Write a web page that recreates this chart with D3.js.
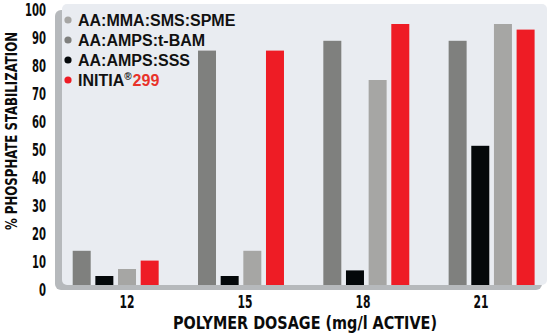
<!DOCTYPE html>
<html>
<head>
<meta charset="utf-8">
<script src="https://cdn.jsdelivr.net/npm/d3@7"></script>
<style>
  body { margin: 0; background: #fff; }
  .cond { font-family: "DejaVu Sans Condensed", "Liberation Sans Narrow", "Liberation Sans", sans-serif; font-weight: bold; }
  .leg { font-family: "Liberation Sans", Arial, sans-serif; font-weight: bold; }
</style>
</head>
<body>
<svg id="chart" width="549" height="335"></svg>
<script>
const dosages = ["12", "15", "18", "21"];
const seriesNames = ["AA:AMPS:t-BAM", "AA:AMPS:SSS", "AA:MMA:SMS:SPME", "INITIA 299"];
const tBam = [14, 85.5, 89, 89];
const sss = [5, 5, 7, 51.5];
const spme = [7.5, 14, 75, 95];
const initia = [10.5, 85.5, 95, 93];
const yTicks = [0, 10, 20, 30, 40, 50, 60, 70, 80, 90, 100];

const colors = ["#7f807e", "#04080a", "#a6a6a4", "#ee1c25"];
const values = [tBam, sss, spme, initia];

const svg = d3.select("#chart");

const y = d3.scaleLinear().domain([0, 100]).range([290, 10]);

const x0 = d3.scaleBand().domain(dosages)
  .range([72.7, 534.6]).paddingInner(0.314).paddingOuter(0);
const x1 = d3.scaleBand().domain(seriesNames)
  .range([0, x0.bandwidth()]).paddingInner(0.206).paddingOuter(0);
const xLab = d3.scalePoint().domain(dosages).range([127, 481]);

// panel with shadow band on left/bottom
svg.append("rect").attr("x", 55).attr("y", 10).attr("width", 487).attr("height", 280)
  .attr("rx", 6).attr("fill", "#b6b9bc");
svg.append("rect").attr("x", 62).attr("y", 4).attr("width", 485).attr("height", 281)
  .attr("rx", 5).attr("fill", "#e9ecf1");

svg.append("clipPath").attr("id", "panelClip")
  .append("rect").attr("x", 62).attr("y", 4).attr("width", 485).attr("height", 281);

const groups = svg.append("g").attr("clip-path", "url(#panelClip)")
  .selectAll("g").data(dosages).enter().append("g")
  .attr("transform", d => `translate(${x0(d)},0)`);

groups.selectAll("rect")
  .data((d, i) => seriesNames.map((s, j) => ({ s, j, v: values[j][i] })))
  .enter().append("rect")
  .attr("x", d => x1(d.s))
  .attr("width", x1.bandwidth())
  .attr("y", d => y(d.v))
  .attr("height", d => y(0) - y(d.v))
  .attr("fill", d => colors[d.j]);

// y tick labels
svg.append("g").selectAll("text").data(yTicks).enter().append("text")
  .attr("class", "cond")
  .attr("x", 46).attr("y", d => y(d)).attr("dy", "0.36em")
  .attr("text-anchor", "end").attr("font-size", 17).attr("fill", "#0b0b0b")
  .attr("textLength", d => String(d).length * 7).attr("lengthAdjust", "spacingAndGlyphs")
  .text(d => d);

// x tick labels
svg.append("g").selectAll("text").data(dosages).enter().append("text")
  .attr("class", "cond")
  .attr("x", d => xLab(d)).attr("y", 308)
  .attr("text-anchor", "middle").attr("font-size", 17).attr("fill", "#0b0b0b")
  .attr("textLength", 15).attr("lengthAdjust", "spacingAndGlyphs")
  .text(d => d);

// axis titles
svg.append("text").attr("class", "cond")
  .attr("transform", "translate(17,131) rotate(-90)")
  .attr("text-anchor", "middle").attr("font-size", 15).attr("fill", "#0b0b0b")
  .attr("textLength", 198).attr("lengthAdjust", "spacingAndGlyphs")
  .text("% PHOSPHATE STABILIZATION");

svg.append("text").attr("class", "cond")
  .attr("x", 305).attr("y", 329)
  .attr("text-anchor", "middle").attr("font-size", 18.5).attr("fill", "#0b0b0b")
  .attr("textLength", 264).attr("lengthAdjust", "spacingAndGlyphs")
  .text("POLYMER DOSAGE (mg/l ACTIVE)");

// legend
const legendOrder = [2, 0, 1, 3];
const leg = svg.append("g").selectAll("g").data(legendOrder).enter().append("g")
  .attr("transform", (d, i) => `translate(68,${20 + i * 20})`);
leg.append("circle").attr("r", 3.6).attr("fill", d => colors[d]);
leg.each(function (d) {
  const t = d3.select(this).append("text").attr("class", "leg")
    .attr("x", 10).attr("y", 6).attr("font-size", 16).attr("fill", "#111");
  if (d === 3) {
    t.append("tspan").text("INITIA");
    t.append("tspan").attr("font-size", 10).attr("dy", -6).text("®");
    t.append("tspan").attr("fill", "#e8332a").attr("dy", 6).attr("dx", 1).text("299");
  } else {
    t.text(seriesNames[d]);
  }
});
</script>
</body>
</html>
